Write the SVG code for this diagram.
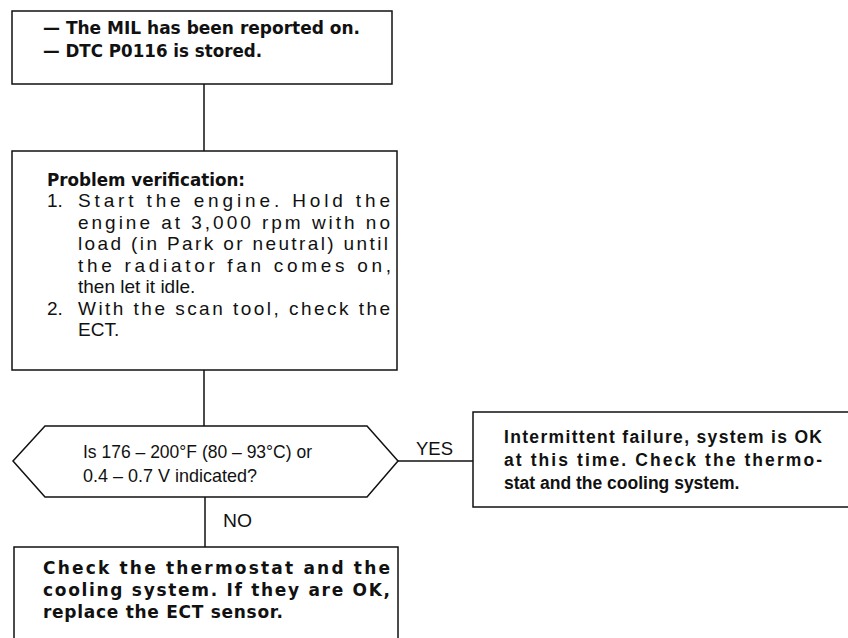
<svg xmlns="http://www.w3.org/2000/svg" width="848" height="638" viewBox="0 0 848 638">
<style>
.box{fill:#fff;stroke:#111;stroke-width:1.5}
.ln{fill:none;stroke:#111;stroke-width:1.5}
.r{font-family:"Liberation Sans",Arial,sans-serif;font-size:19px;fill:#111}
.b{font-family:"DejaVu Sans","Liberation Sans",sans-serif;font-size:17px;font-weight:bold;fill:#111}
.b2{font-family:"Liberation Sans",Arial,sans-serif;font-size:17.5px;font-weight:bold;fill:#111}
</style>
<rect width="848" height="638" fill="#fff"/>
<g id="connectors">
<line class="ln" x1="204" y1="84" x2="204" y2="151"/>
<line class="ln" x1="204" y1="370" x2="204" y2="426"/>
<line class="ln" x1="205" y1="497" x2="205" y2="547"/>
<line class="ln" x1="398" y1="461" x2="473" y2="461"/>
<text class="r" x="416" y="455" textLength="37" lengthAdjust="spacingAndGlyphs">YES</text>
<text class="r" x="223" y="527" textLength="29" lengthAdjust="spacingAndGlyphs">NO</text>
</g>
<g id="start">
<rect class="box" x="12" y="11" width="380" height="73"/>
<text class="b" x="43" y="34" textLength="317" lengthAdjust="spacingAndGlyphs">— The MIL has been reported on.</text>
<text class="b" x="43" y="57" textLength="219" lengthAdjust="spacingAndGlyphs">— DTC P0116 is stored.</text>
</g>
<g id="verify">
<rect class="box" x="12" y="151" width="385" height="219"/>
<text class="b" x="47" y="186" textLength="198" lengthAdjust="spacingAndGlyphs">Problem verification:</text>
<text class="r" x="47" y="207">1.</text>
<text class="r" x="78" y="207" textLength="312" lengthAdjust="spacing">Start the engine. Hold the</text>
<text class="r" x="78" y="229" textLength="312" lengthAdjust="spacing">engine at 3,000 rpm with no</text>
<text class="r" x="78" y="250" textLength="310" lengthAdjust="spacing">load (in Park or neutral) until</text>
<text class="r" x="78" y="272" textLength="313" lengthAdjust="spacing">the radiator fan comes on,</text>
<text class="r" x="78" y="293">then let it idle.</text>
<text class="r" x="47" y="315">2.</text>
<text class="r" x="78" y="315" textLength="312" lengthAdjust="spacing">With the scan tool, check the</text>
<text class="r" x="78" y="336">ECT.</text>
</g>
<g id="decision">
<polygon class="box" points="13,461 45,426 367,426 398,461 367,497 45,497"/>
<text class="r" x="83" y="458" textLength="229" lengthAdjust="spacingAndGlyphs">Is 176 – 200°F (80 – 93°C) or</text>
<text class="r" x="83" y="482" textLength="174" lengthAdjust="spacingAndGlyphs">0.4 – 0.7 V indicated?</text>
</g>
<g id="yes-box">
<rect class="box" x="473" y="412" width="400" height="95"/>
<text class="b2" x="504" y="443" textLength="318" lengthAdjust="spacing">Intermittent failure, system is OK</text>
<text class="b2" x="504" y="466" textLength="318" lengthAdjust="spacing">at this time. Check the thermo-</text>
<text class="b2" x="504" y="489">stat and the cooling system.</text>
</g>
<g id="no-box">
<rect class="box" x="14" y="547" width="384" height="110"/>
<text class="b" x="43" y="574" textLength="347" lengthAdjust="spacing">Check the thermostat and the</text>
<text class="b" x="43" y="596" textLength="347" lengthAdjust="spacing">cooling system. If they are OK,</text>
<text class="b" x="43" y="618" textLength="240" lengthAdjust="spacing">replace the ECT sensor.</text>
</g>
</svg>
